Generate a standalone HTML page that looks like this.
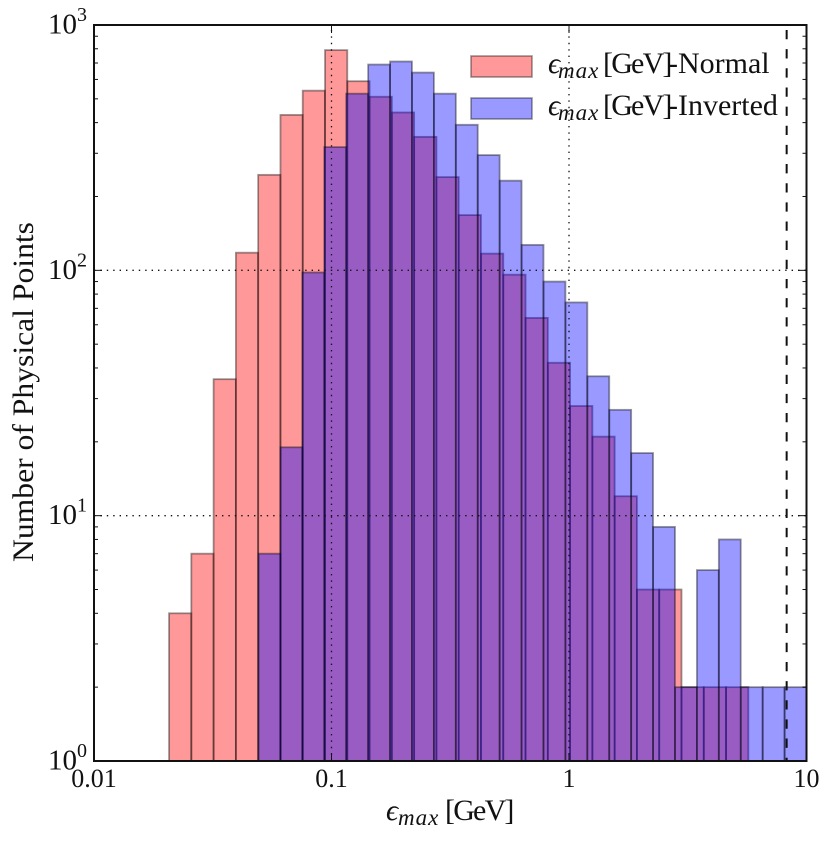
<!DOCTYPE html>
<html lang="en">
<head>
<meta charset="utf-8">
<title>Histogram of epsilon max</title>
<style>
html,body{margin:0;padding:0;background:#fff;}
svg{display:block;}
text{font-family:"Liberation Serif",serif;fill:#111;}
</style>
</head>
<body>
<svg id="chart" xmlns="http://www.w3.org/2000/svg" width="831" height="843" viewBox="0 0 831 843">
  <g id="bars-normal"></g>
  <g id="bars-inverted"></g>
  <g id="grid"></g>
  <g id="ref"></g>
  <g id="ticks"></g>
  <g id="labels"></g>
  <rect x="94" y="25" width="712.5" height="736" fill="none" stroke="#111" stroke-width="2"/>

  <text transform="translate(33,562) rotate(-90)" font-size="30" textLength="340" lengthAdjust="spacingAndGlyphs">Number of Physical Points</text>
  <text y="820" font-size="30"><tspan x="386" font-style="italic">ϵ</tspan><tspan x="398" dy="5" font-size="23" letter-spacing="1" font-style="italic">max</tspan><tspan x="445" dy="-5" letter-spacing="-1.8">[GeV]</tspan></text>

  <g>
    <g>
      <rect x="471" y="56" width="61" height="21" fill="#ff0000" fill-opacity="0.4" stroke="#000" stroke-opacity="0.4" stroke-width="1.6"/>
      <text y="73" font-size="30"><tspan x="548" font-style="italic">ϵ</tspan><tspan x="558" dy="5" font-size="23" letter-spacing="1" font-style="italic">max</tspan><tspan x="603" dy="-5" letter-spacing="-1.8">[GeV]</tspan><tspan x="668">-Normal</tspan></text>
    </g>
    <g>
      <rect x="471" y="98" width="61" height="21" fill="#0000ff" fill-opacity="0.4" stroke="#000" stroke-opacity="0.4" stroke-width="1.6"/>
      <text y="115" font-size="30"><tspan x="548" font-style="italic">ϵ</tspan><tspan x="558" dy="5" font-size="23" letter-spacing="1" font-style="italic">max</tspan><tspan x="603" dy="-5" letter-spacing="-1.8">[GeV]</tspan><tspan x="668">-Inverted</tspan></text>
    </g>
  </g>
</svg>
<script>
// Chart data
const normalCounts = [4,7,36,118,245,430,540,790,590,510,440,350,240,168,117,96,64,42,28,21,12,5,5,2,2,2];
const invertedCounts = [7,19,98,318,525,690,710,640,525,392,295,232,127,90,74,37,27,18,9,2,6,8,2,2,2];
const normalRangeGeV = [0.0207,5.69];
const invertedRangeGeV = [0.0493,10];
const xTickValues = [0.01,0.1,1,10];
const xTickLabels = ['0.01','0.1','1','10'];
const yTickValues = [1,10,100,1000];
const yTickExponents = ['0','1','2','3'];
const yMinorMultipliers = [2,3,4,5,6,7,8,9];
const cutoffGeV = [8.25];

const NS = 'http://www.w3.org/2000/svg';
const plot = {left:94, right:806.5, top:25, bottom:761};
const xDomain = [0.01,10];
const yDomain = [1,1000];

function xScale(v){
  const a = Math.log10(xDomain[0]), b = Math.log10(xDomain[1]);
  return plot.left + (Math.log10(v)-a)/(b-a)*(plot.right-plot.left);
}
function yScale(v){
  const a = Math.log10(yDomain[0]), b = Math.log10(yDomain[1]);
  return plot.bottom - (Math.log10(v)-a)/(b-a)*(plot.bottom-plot.top);
}
function make(tag, attrs){
  const el = document.createElementNS(NS, tag);
  for (const k in attrs) el.setAttribute(k, attrs[k]);
  return el;
}
function drawBars(parentId, counts, range, color, prefix){
  const parent = document.getElementById(parentId);
  const lo = Math.log10(range[0]), hi = Math.log10(range[1]);
  const step = (hi-lo)/counts.length;
  counts.forEach(function(c,i){
    const x0 = xScale(Math.pow(10, lo+step*i));
    const x1 = xScale(Math.pow(10, lo+step*(i+1)));
    const y = yScale(c);
    const bar = make('rect',{x:x0,y:y,width:x1-x0,height:plot.bottom-y,fill:color,'fill-opacity':0.4,stroke:'#000','stroke-opacity':0.4,'stroke-width':1.8});
    
    
    parent.appendChild(bar);
  });
}
drawBars('bars-normal', normalCounts, normalRangeGeV, '#ff0000', 'normal');
drawBars('bars-inverted', invertedCounts, invertedRangeGeV, '#0000ff', 'inverted');

const grid = document.getElementById('grid');
xTickValues.slice(1,3).forEach(function(v){
  const line = make('line',{x1:xScale(v),x2:xScale(v),y1:plot.bottom,y2:plot.top,stroke:'#111','stroke-width':1.3,'stroke-dasharray':'1.4 5'});
  
  
  grid.appendChild(line);
});
yTickValues.slice(1,3).forEach(function(v){
  const line = make('line',{x1:plot.left,x2:plot.right,y1:yScale(v),y2:yScale(v),stroke:'#111','stroke-width':1.3,'stroke-dasharray':'1.4 5'});
  
  
  grid.appendChild(line);
});

cutoffGeV.forEach(function(v){
  const line = make('line',{x1:xScale(v),x2:xScale(v),y1:plot.top+5,y2:plot.bottom,stroke:'#111','stroke-width':2,'stroke-dasharray':'9.3 9.85'});
  
  
  document.getElementById('ref').appendChild(line);
});

const ticks = document.getElementById('ticks');
function tick(x1,y1,x2,y2,name){
  const t = make('line',{x1:x1,y1:y1,x2:x2,y2:y2,stroke:'#111','stroke-width':1});
  
  
  ticks.appendChild(t);
}
yTickValues.forEach(function(v,i){
  const y = yScale(v);
  tick(plot.left,y,plot.left+8,y,'y-major-tick');
  tick(plot.right,y,plot.right-8,y,'y-major-tick');
  if (i < yTickValues.length-1) yMinorMultipliers.forEach(function(m){
    const ym = yScale(v*m);
    tick(plot.left,ym,plot.left+4,ym,'y-minor-tick');
    tick(plot.right,ym,plot.right-4,ym,'y-minor-tick');
  });
});
xTickValues.forEach(function(v){
  const x = xScale(v);
  tick(x,plot.bottom,x,plot.bottom-8,'x-major-tick');
  tick(x,plot.top,x,plot.top+8,'x-major-tick');
});

const labels = document.getElementById('labels');
xTickValues.forEach(function(v,i){
  const t = make('text',{x:xScale(v),y:787,'font-size':26,'text-anchor':'middle'});
  
  
  t.textContent = xTickLabels[i];
  labels.appendChild(t);
});
yTickValues.forEach(function(v,i){
  const y = yScale(v)+8.5;
  const base = make('text',{x:48,y:y,'font-size':29});
  
  
  base.textContent = '10';
  labels.appendChild(base);
  const sup = make('text',{x:77,y:y-12.5,'font-size':20});
  
  
  sup.textContent = yTickExponents[i];
  labels.appendChild(sup);
});
</script>
</body>
</html>
